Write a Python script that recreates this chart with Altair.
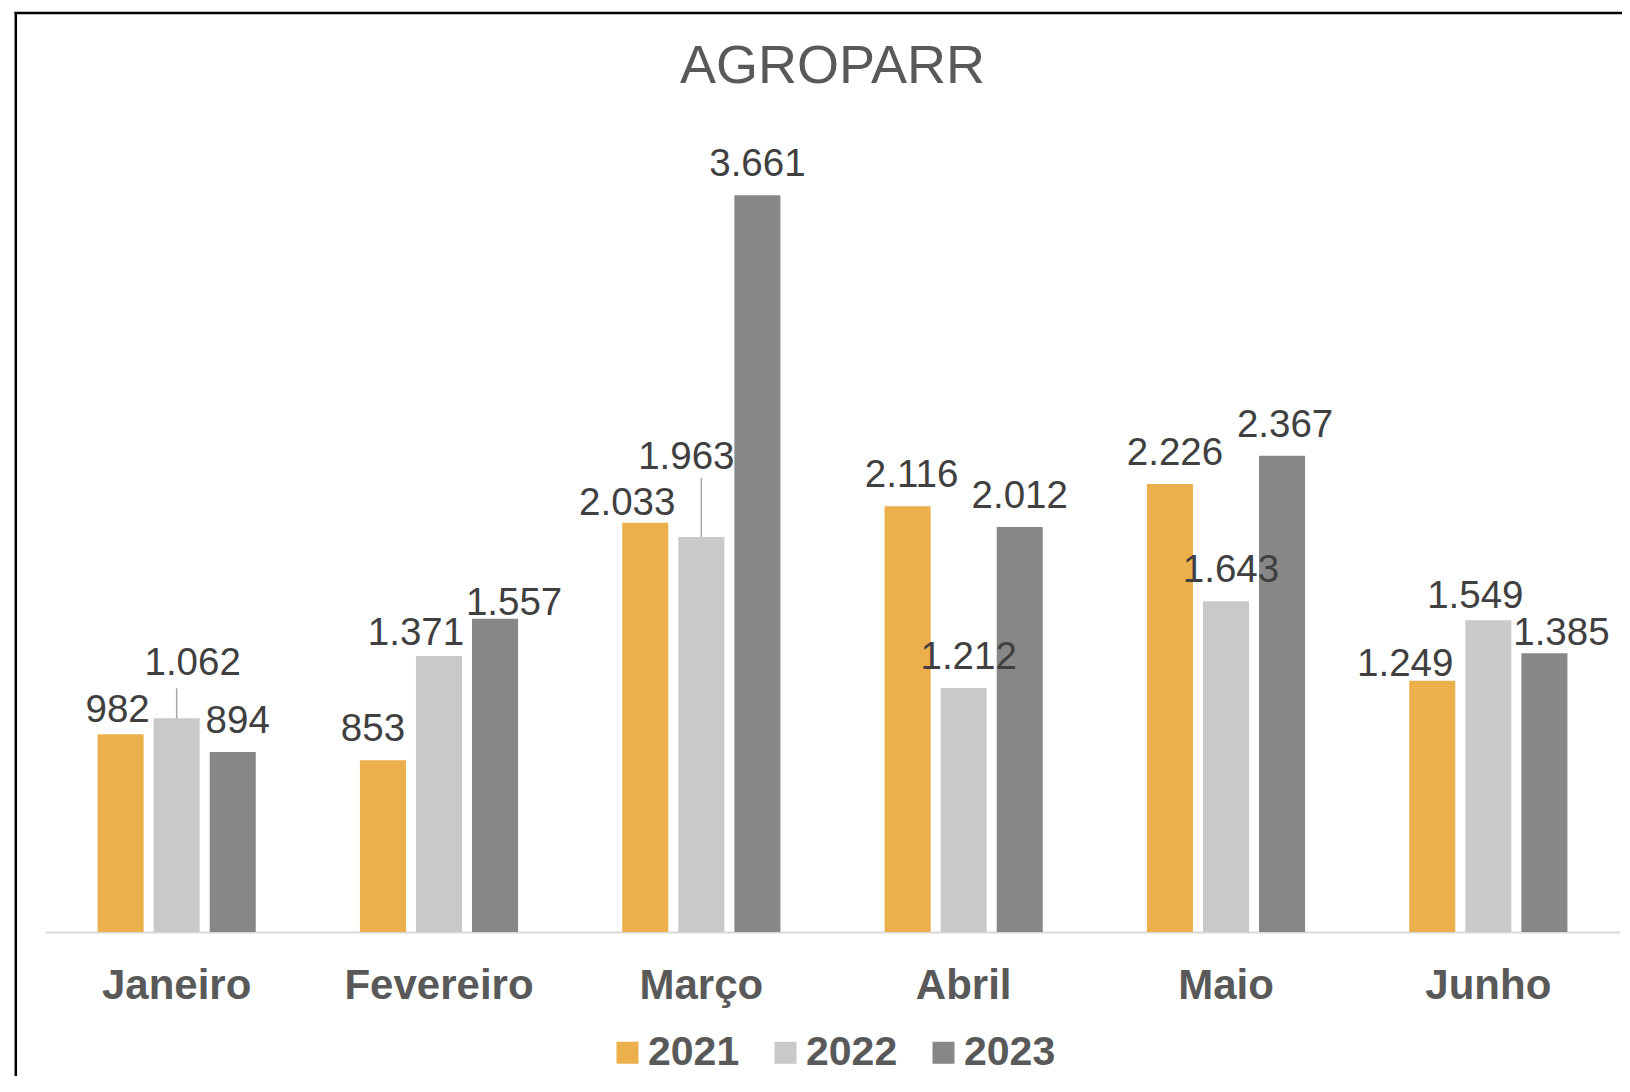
import altair as alt
import pandas as pd

# ---- data ----
months = ["Janeiro", "Fevereiro", "Março", "Abril", "Maio", "Junho"]
years = ["2021", "2022", "2023"]
v2021 = [982, 853, 2033, 2116, 2226, 1249]
v2022 = [1062, 1371, 1963, 1212, 1643, 1549]
v2023 = [894, 1557, 3661, 2012, 2367, 1385]
colors = ["#EBB04B", "#C9C9C9", "#878787"]
title_text = "AGROPARR"

rows = []
for yr, vals in zip(years, [v2021, v2022, v2023]):
    for m, v in zip(months, vals):
        rows.append({"Mês": m, "Ano": yr, "Valor": v,
                     "Rótulo": f"{v:,}".replace(",", ".")})
df = pd.DataFrame(rows)

# ---- styling ----
FONT = "Liberation Sans"
W, H = 1574, 805
LABEL_DY = -19
LABEL_SIZE = 38.5
# label nudges (pixels) mimicking the spreadsheet's label collision layout
nudges = {
    ("Janeiro", "2021"): (-3, 7), ("Janeiro", "2022"): (16, -24), ("Janeiro", "2023"): (5, 0),
    ("Fevereiro", "2021"): (-10, 0), ("Fevereiro", "2022"): (-23, 8), ("Fevereiro", "2023"): (19, 15),
    ("Março", "2021"): (-18, 11), ("Março", "2022"): (-15, -49),
    ("Abril", "2021"): (4, 0), ("Abril", "2022"): (5, 0),
    ("Maio", "2021"): (5, 0), ("Maio", "2022"): (5, 0), ("Maio", "2023"): (3, 0),
    ("Junho", "2021"): (-27, 14), ("Junho", "2022"): (-13, 7), ("Junho", "2023"): (17, 11),
}
leaders = {("Janeiro", "2022"): -30, ("Março", "2022"): -59}


def sel(m, yr):
    return f"datum['Mês'] == '{m}' && datum['Ano'] == '{yr}'"


x = alt.X("Mês:N", sort=months,
          scale=alt.Scale(paddingInner=0, paddingOuter=0),
          axis=alt.Axis(title=None, labelAngle=0, labelFont=FONT, labelFontSize=42,
                        labelFontWeight="bold", labelColor="#595959", labelPadding=33,
                        labelLimit=0, ticks=False, domainColor="#D9D9D9", domainWidth=2))
xo = alt.XOffset("Ano:N", sort=years,
                 scale=alt.Scale(paddingInner=0.1786, paddingOuter=0.929))
y = alt.Y("Valor:Q", scale=alt.Scale(domain=[0, 4000]), axis=None)
color = alt.Color("Ano:N", sort=years,
                  scale=alt.Scale(domain=years, range=colors),
                  legend=alt.Legend(title=None, orient="none", legendX=561.5, legendY=905,
                                    direction="horizontal", symbolType="square",
                                    symbolSize=484, symbolStrokeWidth=0,
                                    labelFont=FONT, labelFontSize=41, labelFontWeight="bold",
                                    labelColor="#595959", columnPadding=25, labelOffset=0,
                                    labelLimit=0))

bars = alt.Chart(df).mark_bar().encode(x=x, xOffset=xo, y=y, color=color)

layers = [bars]

# leader lines
for (m, yr), off in leaders.items():
    layers.append(
        alt.Chart(df).transform_filter(sel(m, yr)).mark_rule(
            color="#A6A6A6", strokeWidth=1.5, y2Offset=off
        ).encode(x=x, xOffset=xo, y=y, y2="Valor:Q")
    )

# labels without nudges
plain = "!(" + " || ".join("(" + sel(m, yr) + ")" for (m, yr) in nudges) + ")"
layers.append(
    alt.Chart(df).transform_filter(plain).mark_text(
        baseline="alphabetic", dy=LABEL_DY, fontSize=LABEL_SIZE, font=FONT, color="#404040"
    ).encode(x=x, xOffset=xo, y=y, text="Rótulo:N")
)
# nudged labels
for (m, yr), (ddx, ddy) in nudges.items():
    layers.append(
        alt.Chart(df).transform_filter(sel(m, yr)).mark_text(
            baseline="alphabetic", dx=ddx, dy=LABEL_DY + ddy, fontSize=LABEL_SIZE,
            font=FONT, color="#404040"
        ).encode(x=x, xOffset=xo, y=y, text="Rótulo:N")
    )

one = pd.DataFrame({"t": [title_text]})
title = alt.Chart(one).mark_text(
    baseline="alphabetic", align="center", fontSize=54, font=FONT, color="#595959"
).encode(x=alt.value(W / 2), y=alt.value(-44), text="t:N")
frame_left = alt.Chart(one).mark_rule(color="black", strokeWidth=2.5).encode(
    x=alt.value(-29.7), y=alt.value(-115), y2=alt.value(1000))
frame_top = alt.Chart(one).mark_rule(color="black", strokeWidth=2.5).encode(
    x=alt.value(-31), x2=alt.value(1700), y=alt.value(-114))
layers += [title, frame_left, frame_top]

chart = alt.layer(*layers).properties(
    width=W, height=H,
    padding={"left": 37.5, "top": 119, "right": 2, "bottom": 144},
    autosize="none",
).configure(background="white").configure_view(strokeWidth=0, stroke="transparent")

chart.save("out.html", embed_options={"renderer": "svg", "actions": False})
